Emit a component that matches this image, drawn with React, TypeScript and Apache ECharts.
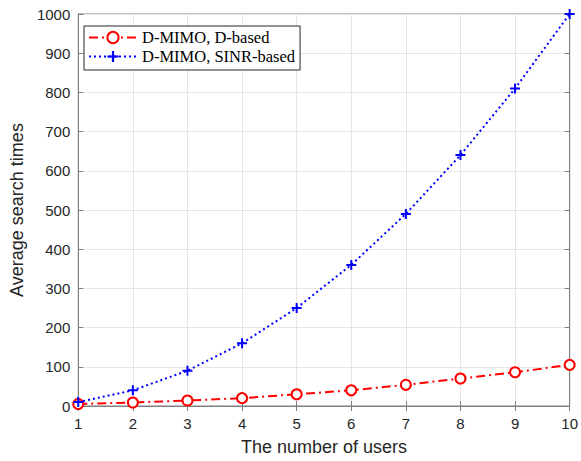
import React, { useEffect, useRef } from "react";
import * as echarts from "echarts";

const users = [1, 2, 3, 4, 5, 6, 7, 8, 9, 10];
const dBased = [5, 9, 14, 20, 30, 40, 54, 70, 86, 105];
const sinrBased = [10, 40, 90, 160, 250, 360, 490, 640, 810, 1000];
const seriesNames = ["D-MIMO, D-based", "D-MIMO, SINR-based"];

const plusPath = "path://M4,0H6V4H10V6H6V10H4V6H0V4H4Z";

export default function App() {
  const ref = useRef<HTMLDivElement>(null);
  useEffect(() => {
    if (!ref.current) return;
    const chart = echarts.init(ref.current, undefined, { renderer: "svg" });
    const axisColor = "#7f7f7f";
    const sans = "Liberation Sans, Arial, sans-serif";
    const tickFont = { fontFamily: sans, fontSize: 15, color: "#262626" };
    chart.setOption({
      animation: false,
      backgroundColor: "#ffffff",
      grid: { left: 72, right: 8, top: 14, bottom: 52, show: true, borderColor: axisColor, borderWidth: 1 },
      legend: {
        left: 84,
        top: 26,
        orient: "vertical",
        backgroundColor: "#ffffff",
        borderColor: "#262626",
        borderWidth: 1,
        padding: [3, 5, 5, 4],
        itemGap: 2,
        itemWidth: 48,
        itemHeight: 14,
        textStyle: { fontFamily: "Liberation Serif, Times New Roman, serif", fontSize: 16.5, lineHeight: 16, color: "#000" },
        data: seriesNames,
      },
      xAxis: [
        {
          type: "value",
          min: 1,
          max: 10,
          interval: 1,
          name: "The number of users",
          nameLocation: "middle",
          nameGap: 32,
          nameTextStyle: { fontFamily: sans, fontSize: 18, color: "#262626" },
          axisLine: { show: true, lineStyle: { color: axisColor } },
          axisTick: { show: true, inside: true, length: 5, lineStyle: { color: axisColor } },
          axisLabel: { ...tickFont, margin: 10 },
          splitLine: { show: true, lineStyle: { color: "#e6e6e6" } },
        },
        {
          type: "value",
          position: "top",
          min: 1,
          max: 10,
          interval: 1,
          axisLine: { show: true, lineStyle: { color: axisColor } },
          axisTick: { show: true, inside: true, length: 5, lineStyle: { color: axisColor } },
          axisLabel: { show: false },
          splitLine: { show: false },
        },
      ],
      yAxis: [
        {
          type: "value",
          min: 0,
          max: 1000,
          interval: 100,
          name: "Average search times",
          nameLocation: "middle",
          nameGap: 46,
          nameTextStyle: { fontFamily: sans, fontSize: 18, color: "#262626" },
          axisLine: { show: true, lineStyle: { color: axisColor } },
          axisTick: { show: true, inside: true, length: 5, lineStyle: { color: axisColor } },
          axisLabel: { ...tickFont, margin: 8, formatter: (v: number) => String(v) },
          splitLine: { show: true, lineStyle: { color: "#e6e6e6" } },
        },
        {
          type: "value",
          position: "right",
          min: 0,
          max: 1000,
          interval: 100,
          axisLine: { show: true, lineStyle: { color: axisColor } },
          axisTick: { show: true, inside: true, length: 5, lineStyle: { color: axisColor } },
          axisLabel: { show: false },
          splitLine: { show: false },
        },
      ],
      series: [
        {
          name: seriesNames[0],
          type: "line",
          data: users.map((u, i) => [u, dBased[i]]),
          symbol: "circle",
          symbolSize: 10,
          showAllSymbol: true,
          itemStyle: { color: "#ffffff", borderColor: "#ff0000", borderWidth: 2 },
          lineStyle: { color: "#ff0000", width: 2, type: [9, 4, 2, 4] },
          z: 3,
        },
        {
          name: seriesNames[1],
          type: "line",
          data: users.map((u, i) => [u, sinrBased[i]]),
          symbol: plusPath,
          symbolSize: 10,
          showAllSymbol: true,
          itemStyle: { color: "#0000ff" },
          lineStyle: { color: "#0000ff", width: 2, type: [2, 3] },
          z: 4,
        },
      ],
    });
    return () => chart.dispose();
  }, []);
  return <div ref={ref} style={{ width: 581, height: 461, position: "absolute", left: 0, top: 0 }} />;
}
